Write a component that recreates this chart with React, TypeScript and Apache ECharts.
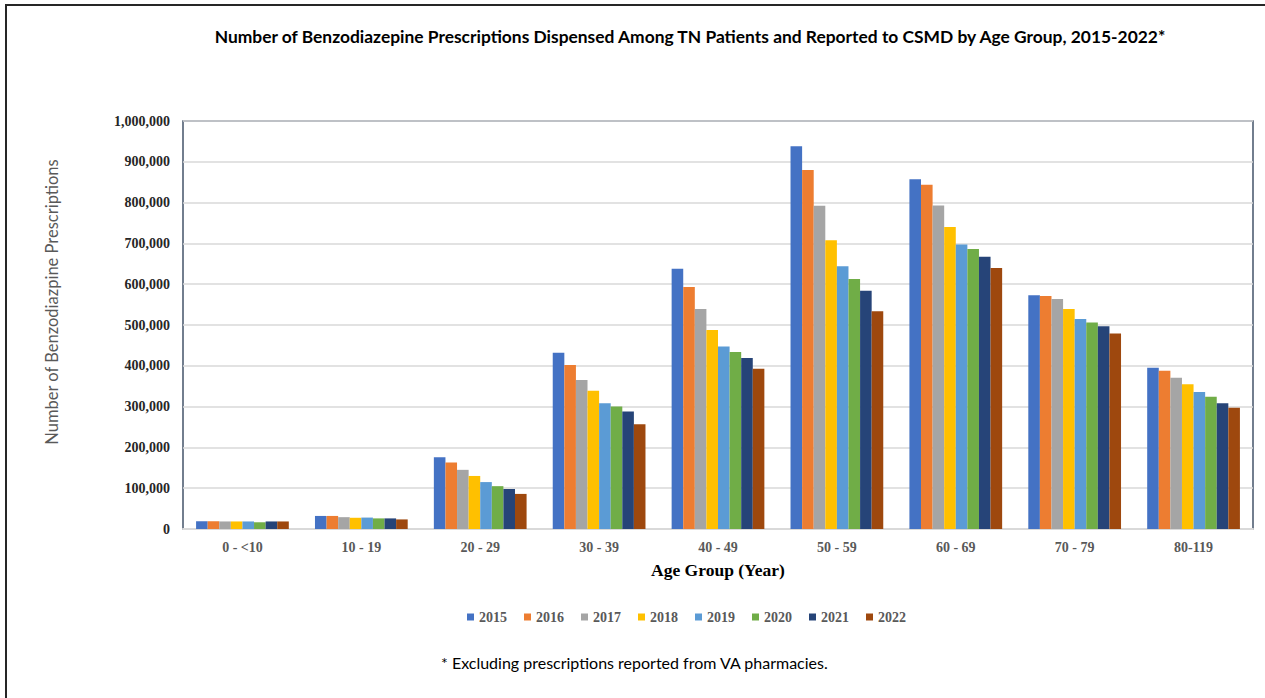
import React, { useEffect, useRef } from "react";
import * as echarts from "echarts";

const categories = ["0 - <10", "10 - 19", "20 - 29", "30 - 39", "40 - 49", "50 - 59", "60 - 69", "70 - 79", "80-119"];
const years = ["2015", "2016", "2017", "2018", "2019", "2020", "2021", "2022"];
const colors = ["#4472C4", "#ED7D31", "#A5A5A5", "#FFC000", "#5B9BD5", "#70AD47", "#264478", "#9E480E"];

const v2015 = [19000, 32000, 176000, 432000, 638000, 938000, 857000, 573000, 395000];
const v2016 = [19000, 32000, 163000, 402000, 593000, 880000, 844000, 571000, 388000];
const v2017 = [18500, 29000, 145000, 365000, 539000, 792000, 793000, 564000, 371000];
const v2018 = [18500, 27500, 130000, 339000, 488000, 708000, 740000, 539000, 355000];
const v2019 = [18500, 28000, 115000, 308000, 447000, 644000, 697000, 515000, 336000];
const v2020 = [16500, 26000, 105000, 300000, 434000, 613000, 686000, 506000, 324000];
const v2021 = [18500, 26000, 98000, 288000, 419000, 584000, 667000, 497000, 308000];
const v2022 = [18500, 23500, 86000, 257000, 393000, 534000, 640000, 479000, 297000];
const seriesValues = [v2015, v2016, v2017, v2018, v2019, v2020, v2021, v2022];

const titleText = "Number of Benzodiazepine Prescriptions Dispensed Among TN Patients and Reported to CSMD by Age Group, 2015-2022*";
const yTitle = "Number of Benzodiazpine Prescriptions";
const xTitle = "Age Group (Year)";
const footnote = "* Excluding prescriptions reported from VA pharmacies.";

export default function App() {
  const ref = useRef<HTMLDivElement>(null);
  useEffect(() => {
    document.body.style.margin = "0";
    const chart = echarts.init(ref.current!, null, { renderer: "svg" });
    const serif = "'Liberation Serif', 'Times New Roman', serif";
    const sans = "Lato, 'Open Sans', sans-serif";
    chart.setOption({
      animation: false,
      backgroundColor: "#ffffff",
      title: {
        text: titleText,
        left: 685,
        textAlign: "center",
        top: 23,
        textStyle: { fontFamily: sans, fontWeight: "bold", fontSize: 17.4, color: "#000000" },
      },
      grid: {
        left: 183,
        right: 12,
        top: 121,
        bottom: 169,
        show: true,
        borderColor: "#44546A",
        borderWidth: 1.5,
        backgroundColor: "transparent",
      },
      legend: {
        data: years,
        left: 462,
        top: 605,
        itemWidth: 7,
        itemHeight: 7,
        itemGap: 17,
        icon: "rect",
        textStyle: { fontFamily: serif, fontWeight: "bold", fontSize: 14, color: "#595959" },
      },
      xAxis: {
        type: "category",
        data: categories,
        axisLine: { show: true, lineStyle: { color: "#D9D9D9", width: 2 } },
        axisTick: { show: false },
        axisLabel: { fontFamily: serif, fontWeight: "bold", fontSize: 14, color: "#595959", margin: 11 },
        name: xTitle,
        nameLocation: "middle",
        nameGap: 32,
        nameTextStyle: { fontFamily: serif, fontWeight: "bold", fontSize: 17.5, color: "#000000" },
      },
      yAxis: {
        type: "value",
        min: 0,
        max: 1000000,
        interval: 100000,
        axisLine: { show: false },
        axisTick: { show: false },
        splitLine: { lineStyle: { color: "#D9D9D9", width: 1.5 } },
        axisLabel: {
          fontFamily: serif,
          fontWeight: "bold",
          fontSize: 14,
          color: "#262626",
          margin: 13,
          formatter: (v: number) => v.toLocaleString("en-US"),
        },
      },
      series: years.map((y, i) => ({
        name: y,
        type: "bar",
        data: seriesValues[i],
        barGap: "0%",
        barCategoryGap: "22%",
        itemStyle: { color: colors[i] },
      })),
      graphic: [
        {
          type: "polyline",
          shape: { points: [[6, 698], [6, 5], [1265, 5]] },
          style: { stroke: "#262626", lineWidth: 2, fill: "none" },
          silent: true,
        },
        {
          type: "text",
          x: 52,
          y: 302,
          rotation: Math.PI / 2,
          style: {
            text: yTitle,
            fontFamily: sans,
            fontSize: 16.5,
            fill: "#595959",
            align: "center",
            verticalAlign: "middle",
          },
        },
        {
          type: "text",
          left: 441,
          top: 654,
          style: { text: footnote, fontFamily: sans, fontSize: 16, fill: "#000000" },
        },
      ],
    });
    return () => chart.dispose();
  }, []);
  return <div ref={ref} style={{ width: 1265, height: 698 }} />;
}
